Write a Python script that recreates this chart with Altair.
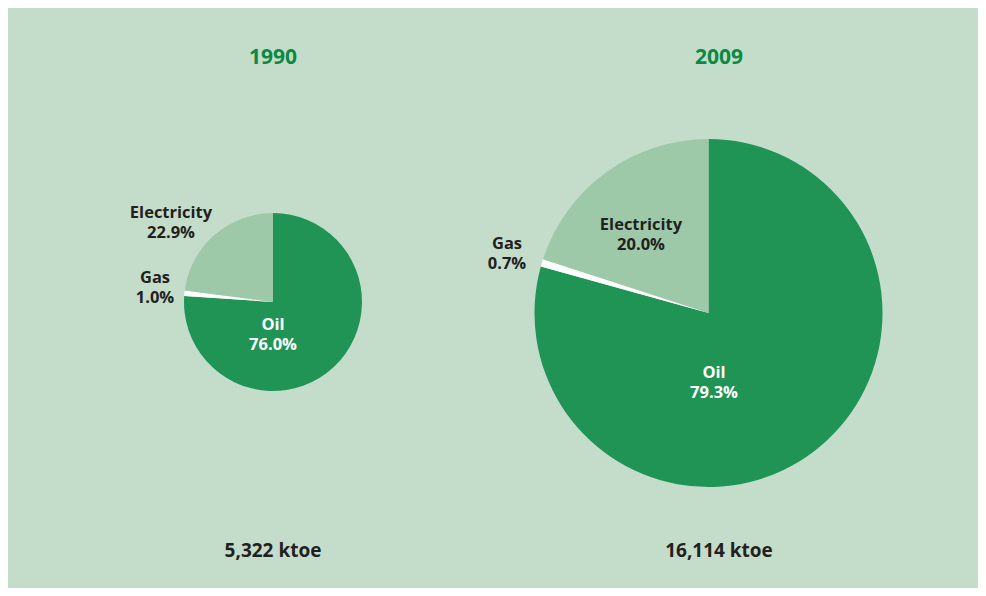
import altair as alt
import pandas as pd

# ---------------- data ----------------
years = ["1990", "2009"]
categories = ["Oil", "Gas", "Electricity"]
shares_1990 = [76.0, 1.0, 22.9]
shares_2009 = [79.3, 0.7, 20.0]
totals_ktoe = [5322, 16114]

# ---------------- layout / style ----------------
BG = "#c4ddca"
OIL = "#1f9455"
GAS = "#ffffff"
ELEC = "#9ec9a9"
TITLE_GREEN = "#0b8a43"
DARK = "#231f20"
FONT = "Open Sans"
OFF = 8  # page margin -> chart coordinates

PIE = {"1990": (273, 302, 89), "2009": (708.5, 313, 174)}
TITLE_POS = {"1990": (273, 58), "2009": (719, 58)}
TOTAL_POS = {"1990": (273, 551), "2009": (719, 551)}
# position of the first line of each two-line label
LABEL_POS = {
    ("1990", "Electricity"): (171, 213),
    ("1990", "Gas"): (155, 278),
    ("1990", "Oil"): (273, 325),
    ("2009", "Gas"): (507, 244),
    ("2009", "Electricity"): (641, 225),
    ("2009", "Oil"): (714, 373),
}
LABEL_COLOR = {"Oil": "#ffffff", "Gas": DARK, "Electricity": DARK}

# ---------------- tables ----------------
rows = []
for yr, shares in zip(years, [shares_1990, shares_2009]):
    for i, (c, s) in enumerate(zip(categories, shares)):
        rows.append({"year": yr, "category": c, "share": s, "ord": i})
df = pd.DataFrame(rows)

lab_rows = []
for r in rows:
    x, y = LABEL_POS[(r["year"], r["category"])]
    lab_rows.append({"px": x - OFF, "py": y - OFF,
                     "txt": f"{r['category']}\n{r['share']:.1f}%",
                     "tc": LABEL_COLOR[r["category"]]})
lab_df = pd.DataFrame(lab_rows)

title_df = pd.DataFrame([{"px": TITLE_POS[y][0] - OFF, "py": TITLE_POS[y][1] - OFF, "txt": y}
                         for y in years])
total_df = pd.DataFrame([{"px": TOTAL_POS[y][0] - OFF, "py": TOTAL_POS[y][1] - OFF,
                          "txt": f"{t:,} ktoe"} for y, t in zip(years, totals_ktoe)])

# ---------------- chart ----------------
layers = []
for yr in years:
    cx, cy, r = PIE[yr]
    layers.append(
        alt.Chart(df)
        .transform_filter(alt.datum.year == yr)
        .mark_arc(outerRadius=r, stroke=None)
        .encode(
            theta=alt.Theta("share:Q", stack=True),
            color=alt.Color("category:N",
                            scale=alt.Scale(domain=categories, range=[OIL, GAS, ELEC]),
                            legend=None),
            order=alt.Order("ord:Q"),
            x=alt.value(cx - OFF),
            y=alt.value(cy - OFF),
        )
    )

labels = alt.Chart(lab_df).mark_text(font=FONT, fontSize=16.5, fontWeight="bold",
                                     baseline="middle", align="center",
                                     lineBreak="\n", lineHeight=20).encode(
    x=alt.X("px:Q", scale=None, axis=None),
    y=alt.Y("py:Q", scale=None, axis=None),
    text="txt:N",
    color=alt.Color("tc:N", scale=None),
)

titles = alt.Chart(title_df).mark_text(font=FONT, fontSize=21, fontWeight="bold",
                                       baseline="middle", align="center",
                                       color=TITLE_GREEN).encode(
    x=alt.X("px:Q", scale=None, axis=None),
    y=alt.Y("py:Q", scale=None, axis=None),
    text="txt:N",
)

totals = alt.Chart(total_df).mark_text(font=FONT, fontSize=19, fontWeight="bold",
                                       baseline="middle", align="center",
                                       color=DARK).encode(
    x=alt.X("px:Q", scale=None, axis=None),
    y=alt.Y("py:Q", scale=None, axis=None),
    text="txt:N",
)

chart = (
    alt.layer(*layers, labels, titles, totals)
    .resolve_scale(theta="independent")
    .properties(width=970, height=580, padding=0, background=BG,
                autosize=alt.AutoSizeParams(type="fit", contains="padding"))
    .configure_view(stroke=None)
)

chart.save("out.html", embed_options={"renderer": "svg", "actions": False})
